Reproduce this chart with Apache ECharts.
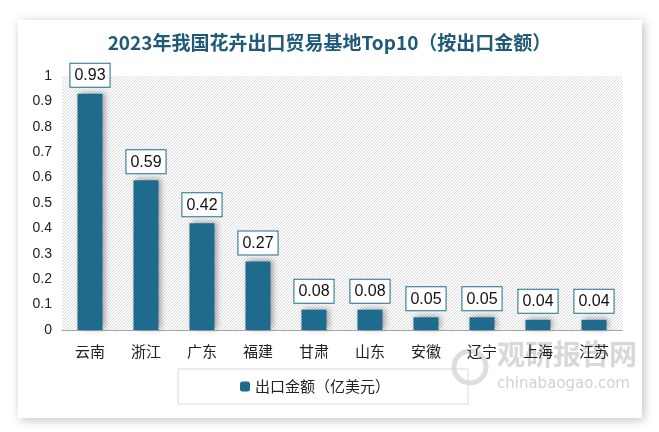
<!DOCTYPE html>
<html><head><meta charset="utf-8">
<script src="https://cdn.jsdelivr.net/npm/echarts@6/dist/echarts.min.js"></script>
<style>html,body{margin:0;padding:0;background:#fff}#c{width:659px;height:432px}</style>
</head><body><div id="c"></div>
<script>
const categories = ['云南','浙江','广东','福建','甘肃','山东','安徽','辽宁','上海','江苏'];
const values = [0.93,0.59,0.42,0.27,0.08,0.08,0.05,0.05,0.04,0.04];
const yTicks = [0,0.1,0.2,0.3,0.4,0.5,0.6,0.7,0.8,0.9,1];
const seriesName = '出口金额（亿美元）';
const titleText = '2023年我国花卉出口贸易基地Top10（按出口金额）';

const pc = document.createElement('canvas');
pc.width = 3; pc.height = 3;
const g = pc.getContext('2d');
g.fillStyle = '#ffffff'; g.fillRect(0,0,3,3);
g.strokeStyle = '#cfcfcf'; g.lineWidth = 0.8;
g.beginPath();
for (let k=-3;k<=6;k+=3){ g.moveTo(k,3); g.lineTo(k+3,0); }
g.stroke();

const chart = echarts.init(document.getElementById('c'));
chart.setOption({
  animation:false,
  backgroundColor:'#fff',
  graphic:[
    {type:'rect', z:-10, shape:{x:18,y:20,width:624,height:398}, style:{fill:'#fff', shadowBlur:10, shadowColor:'rgba(0,0,0,0.25)', shadowOffsetX:2, shadowOffsetY:2}},
    {type:'text', z:-5, left:497, top:340, style:{text:'观研报告网', font:'bold 28px "Noto Sans CJK SC"', fill:'rgba(190,190,190,0.6)'}},
    {type:'text', z:-5, left:497, top:377, style:{text:'chinabaogao.com', font:'15px "DejaVu Sans"', fill:'rgba(190,190,190,0.7)'}},
    {type:'circle', z:-5, shape:{cx:470,cy:367,r:16}, style:{fill:'none', stroke:'rgba(200,200,200,0.6)', lineWidth:5}}
  ],
  title:{text:titleText, left:'center', top:28, textStyle:{fontFamily:'"Noto Sans CJK SC"', fontWeight:'bold', fontSize:19, color:'#1f5a78'}},
  grid:{left:62, right:37, top:76, bottom:102, show:true, borderWidth:0, backgroundColor:{image:pc, repeat:'repeat'}},
  legend:{data:[seriesName], bottom:28, left:178, itemWidth:10, itemHeight:10, borderColor:'#d9d9d9', borderWidth:1, padding:[10,78,10,62], textStyle:{fontSize:15, color:'#222', fontFamily:'"Noto Sans CJK SC"'}},
  xAxis:{type:'category', data:categories, axisLine:{lineStyle:{color:'#a6a6a6'}}, axisTick:{show:false},
    axisLabel:{fontSize:15, color:'#222', margin:14, fontFamily:'"Noto Sans CJK SC"'}},
  yAxis:{type:'value', min:0, max:1, interval:0.1, splitLine:{show:false}, axisLine:{show:false}, axisTick:{show:false},
    axisLabel:{fontSize:14, color:'#222', margin:10, fontFamily:'"Liberation Sans"', formatter:v=>String(Math.round(v*10)/10)}},
  series:[{name:seriesName, type:'bar', data:values, barWidth:25,
    itemStyle:{color:'#1f6b8e', shadowBlur:6, shadowColor:'rgba(0,0,0,0.35)', shadowOffsetX:2, shadowOffsetY:-1},
    label:{show:true, position:'top', distance:7, backgroundColor:'#fff', borderColor:'#1f6b8e', borderWidth:1, padding:[4,4,3,4],
      fontSize:16, color:'#111', fontFamily:'"Liberation Sans"', formatter:p=>p.value.toFixed(2)}}]
});
</script></body></html>
